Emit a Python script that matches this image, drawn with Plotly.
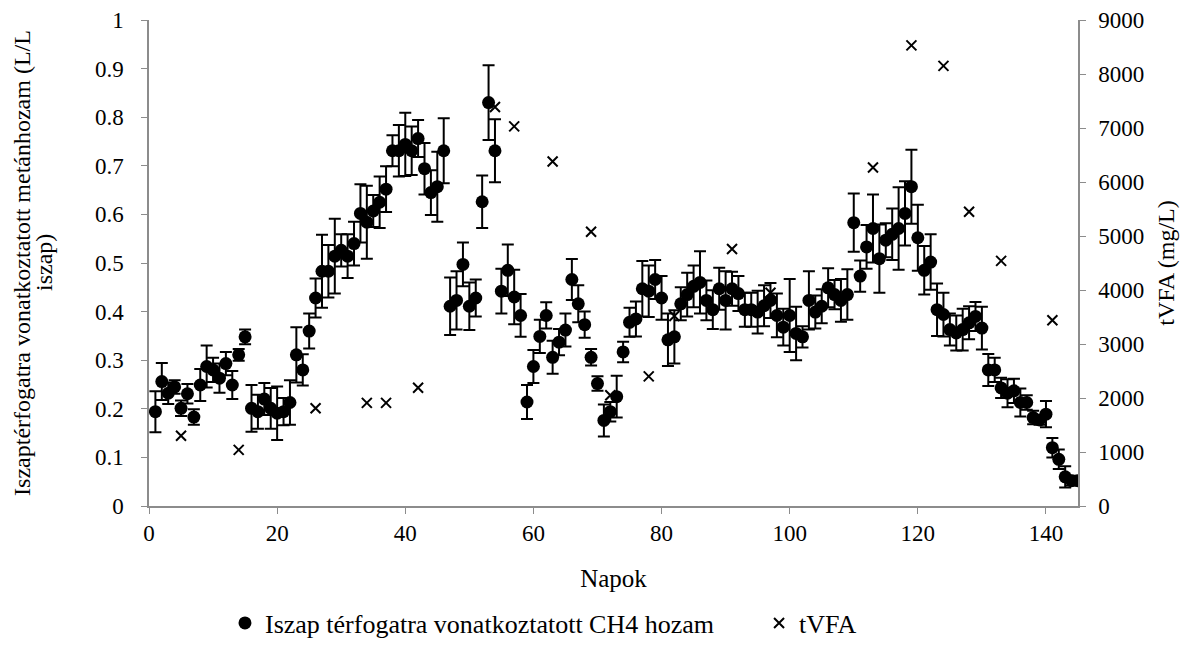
import plotly.graph_objects as go

days = list(range(1, 146))
ch4 = [0.194, 0.256, 0.232, 0.245, 0.201, 0.231, 0.183, 0.249, 0.287, 0.280,
       0.263, 0.293, 0.249, 0.311, 0.348, 0.201, 0.194, 0.220, 0.201, 0.191,
       0.194, 0.213, 0.311, 0.280, 0.360, 0.428, 0.483, 0.483, 0.514, 0.526,
       0.514, 0.540, 0.602, 0.584, 0.607, 0.625, 0.652, 0.731, 0.731, 0.744,
       0.731, 0.756, 0.694, 0.645, 0.657, 0.731, 0.411, 0.423, 0.497, 0.411,
       0.428, 0.626, 0.830, 0.731, 0.442, 0.485, 0.430, 0.392, 0.214, 0.287,
       0.349, 0.392, 0.306, 0.337, 0.362, 0.466, 0.416, 0.373, 0.306, 0.252,
       0.176, 0.194, 0.225, 0.317, 0.378, 0.385, 0.447, 0.442, 0.466, 0.428,
       0.342, 0.348, 0.416, 0.435, 0.452, 0.460, 0.423, 0.404, 0.447, 0.423,
       0.447, 0.437, 0.404, 0.404, 0.399, 0.412, 0.423, 0.392, 0.368, 0.392,
       0.355, 0.348, 0.423, 0.399, 0.411, 0.449, 0.435, 0.423, 0.435, 0.583,
       0.473, 0.533, 0.571, 0.509, 0.547, 0.559, 0.571, 0.602, 0.657, 0.552,
       0.485, 0.502, 0.404, 0.394, 0.363, 0.356, 0.363, 0.377, 0.390, 0.366,
       0.280, 0.280, 0.243, 0.232, 0.237, 0.213, 0.213, 0.182, 0.177, 0.189,
       0.120, 0.096, 0.060, 0.052, 0.052]
ch4_err = [0.042, 0.038, 0.022, 0.014, 0.016, 0.020, 0.016, 0.033, 0.043, 0.025,
           0.030, 0.024, 0.029, 0.012, 0.015, 0.048, 0.035, 0.033, 0.042, 0.055,
           0.028, 0.046, 0.057, 0.032, 0.036, 0.040, 0.075, 0.054, 0.077, 0.033,
           0.045, 0.045, 0.060, 0.075, 0.033, 0.053, 0.047, 0.032, 0.053, 0.065,
           0.050, 0.038, 0.053, 0.046, 0.072, 0.067, 0.059, 0.060, 0.045, 0.049,
           0.038, 0.054, 0.077, 0.065, 0.046, 0.053, 0.056, 0.044, 0.035, 0.034,
           0.034, 0.027, 0.034, 0.027, 0.034, 0.042, 0.038, 0.027, 0.017, 0.015,
           0.033, 0.020, 0.043, 0.021, 0.030, 0.036, 0.057, 0.053, 0.040, 0.045,
           0.054, 0.055, 0.034, 0.045, 0.043, 0.064, 0.041, 0.040, 0.043, 0.060,
           0.035, 0.036, 0.035, 0.035, 0.044, 0.042, 0.036, 0.045, 0.038, 0.075,
           0.055, 0.022, 0.060, 0.034, 0.035, 0.040, 0.030, 0.044, 0.052, 0.060,
           0.032, 0.045, 0.070, 0.070, 0.035, 0.053, 0.085, 0.066, 0.076, 0.068,
           0.050, 0.057, 0.054, 0.045, 0.033, 0.036, 0.043, 0.034, 0.030, 0.044,
           0.033, 0.025, 0.021, 0.029, 0.025, 0.029, 0.015, 0.014, 0.010, 0.027,
           0.020, 0.020, 0.022, 0.010, 0.005]

vfa_days = [5, 14, 26, 34, 37, 42, 54, 57, 63, 69, 72, 78, 82, 91, 97,
            113, 119, 124, 128, 133, 141]
vfa = [1300, 1040, 1810, 1910, 1910, 2190, 7390, 7030, 6380, 5080, 2050,
       2400, 3520, 4760, 3950, 6270, 8530, 8150, 5450, 4540, 3440]

x_ticks = [0, 20, 40, 60, 80, 100, 120, 140]
y_ticks = [0, 0.1, 0.2, 0.3, 0.4, 0.5, 0.6, 0.7, 0.8, 0.9, 1]
y_ticktext = ["0", "0.1", "0.2", "0.3", "0.4", "0.5", "0.6", "0.7", "0.8", "0.9", "1"]
y2_ticks = [0, 1000, 2000, 3000, 4000, 5000, 6000, 7000, 8000, 9000]

FONT = "Liberation Serif"
AX = "#8c8c8c"
TICKF = dict(family=FONT, size=23, color="black")
TITLEF = dict(family=FONT, size=24, color="black")

fig = go.Figure()
fig.add_trace(go.Scatter(
    x=days, y=ch4, mode="markers",
    name="Iszap térfogatra vonatkoztatott CH4 hozam",
    marker=dict(symbol="circle", size=13, color="black"),
    error_y=dict(type="data", array=ch4_err, visible=True,
                 color="black", thickness=2, width=6),
    legend="legend",
))
fig.add_trace(go.Scatter(
    x=vfa_days, y=vfa, mode="markers", name="tVFA", yaxis="y2",
    marker=dict(symbol="x-thin", size=10, color="black",
                line=dict(color="black", width=2)),
    legend="legend2",
))

axis_common = dict(showline=True, linecolor=AX, linewidth=1.5,
                   ticks="outside", tickcolor=AX, ticklen=6,
                   showgrid=False, zeroline=False, tickfont=TICKF,
                   automargin=False)

# page body adds an 8px offset, so the figure is sized 8px smaller
fig.update_layout(
    width=1185, height=638,
    paper_bgcolor="white", plot_bgcolor="white",
    font=dict(family=FONT, size=24, color="black"),
    margin=dict(l=141, r=115, t=12, b=140),
    showlegend=True,
    legend=dict(xref="container", yref="container", x=0.1831, y=0.036,
                xanchor="left", yanchor="middle", orientation="h",
                font=dict(family=FONT, size=26), bgcolor="rgba(0,0,0,0)"),
    legend2=dict(xref="container", yref="container", x=0.6338, y=0.036,
                 xanchor="left", yanchor="middle", orientation="h",
                 font=dict(family=FONT, size=26), bgcolor="rgba(0,0,0,0)"),
    xaxis=dict(range=[0, 145], tickmode="array", tickvals=x_ticks,
               ticklabelstandoff=0,
               title=dict(text="Napok", standoff=24,
                          font=dict(family=FONT, size=25, color="black")),
               **axis_common),
    yaxis=dict(range=[0, 1], tickmode="array", tickvals=y_ticks,
               ticktext=y_ticktext, ticklabelstandoff=13,
               title=dict(text="Iszaptérfogatra vonatkoztatott metánhozam (L/L",
                          standoff=58, font=TITLEF),
               **axis_common),
    yaxis2=dict(range=[0, 9000], overlaying="y", side="right",
                tickmode="array", tickvals=y2_ticks, ticklabelstandoff=8,
                title=dict(text="tVFA (mg/L)", standoff=14, font=TITLEF),
                **axis_common),
    annotations=[dict(text="iszap)", textangle=-90, xref="paper", yref="paper",
                      x=-0.113, y=0.5, xanchor="center", yanchor="middle",
                      showarrow=False, font=TITLEF)],
)

fig.write_html("out.html")
